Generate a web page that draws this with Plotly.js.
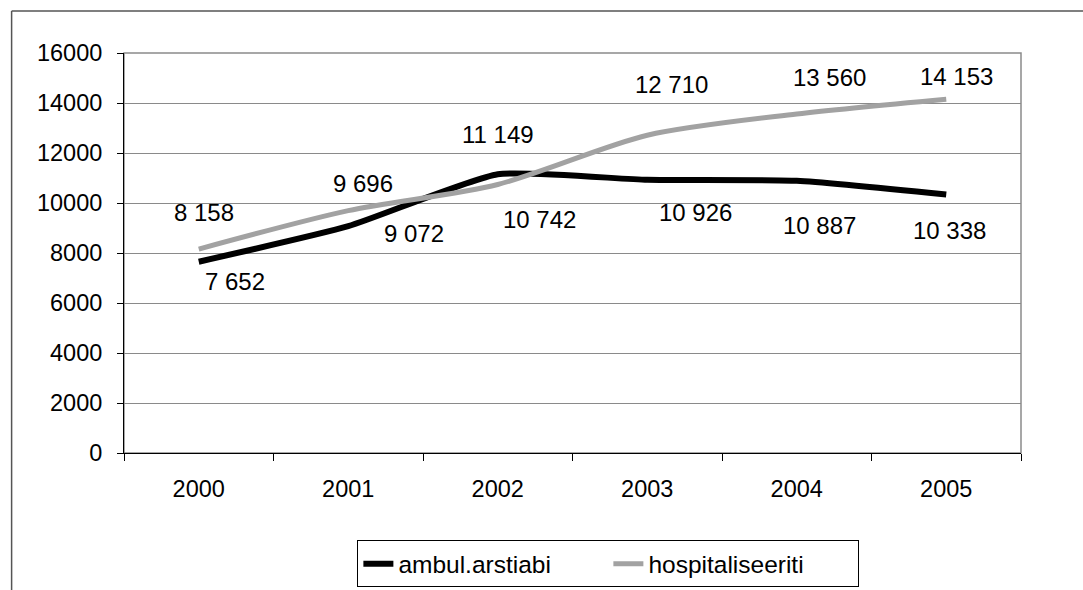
<!DOCTYPE html>
<html>
<head>
<meta charset="utf-8">
<script src="https://cdn.plot.ly/plotly-3.0.1.min.js"></script>
<style>
html,body{margin:0;padding:0;background:#fff;}
#chart{width:1083px;height:590px;}
</style>
</head>
<body>
<div id="chart"></div>
<script>
// ---- data ----
var years = ['2000', '2001', '2002', '2003', '2004', '2005'];
var ambul = [7652, 9072, 11149, 10926, 10887, 10338];
var hosp = [8158, 9696, 10742, 12710, 13560, 14153];
var seriesNames = ['ambul.arstiabi', 'hospitaliseeriti'];
var yTicks = [0, 2000, 4000, 6000, 8000, 10000, 12000, 14000, 16000];

// ---- label offsets (px), styling only ----
var ambulOff = [[36, -20], [66, -7], [0, 40], [48, -33], [23, -45], [3, -36]];
var hospOff = [[5, 37], [15, 27], [42, -35], [24, 51], [33, 37], [10, 23]];

function fmt(v) { return String(v).replace(/\B(?=(\d{3})+(?!\d))/g, '\u00a0'); }

var FONT = 'Liberation Sans, Arial, sans-serif';

var traces = [
  {
    x: years, y: ambul, name: seriesNames[0], type: 'scatter', mode: 'lines',
    line: {color: '#000000', width: 6, shape: 'spline', smoothing: 0.5},
    hoverinfo: 'skip'
  },
  {
    x: years, y: hosp, name: seriesNames[1], type: 'scatter', mode: 'lines',
    line: {color: '#a2a2a2', width: 5, shape: 'spline', smoothing: 0.8},
    hoverinfo: 'skip'
  }
];

var annotations = [];
function addLabels(vals, offs) {
  for (var i = 0; i < vals.length; i++) {
    annotations.push({
      x: i, y: vals[i], xref: 'x', yref: 'y',   // i = category index of years[i]
      text: fmt(vals[i]), showarrow: false,
      xshift: offs[i][0], yshift: offs[i][1],
      font: {family: FONT, size: 24, color: '#000'}
    });
  }
}
addLabels(ambul, ambulOff);
addLabels(hosp, hospOff);

var layout = {
  width: 1083, height: 590,
  margin: {l: 123.5, r: 61.5, t: 53, b: 137.3, pad: 0, autoexpand: false},
  paper_bgcolor: '#ffffff', plot_bgcolor: '#ffffff',
  font: {family: FONT, size: 23, color: '#000'},
  showlegend: true,
  legend: {
    orientation: 'h', x: 0.54, xanchor: 'center', y: -0.218, yanchor: 'top',
    bordercolor: '#000', borderwidth: 1, bgcolor: '#fff',
    font: {family: FONT, size: 24.5, color: '#000'},
    entrywidth: 205, entrywidthmode: 'pixels'
  },
  xaxis: {
    type: 'category', range: [-0.5, 5.5],
    tickson: 'boundaries', ticks: 'outside', ticklen: 7, tickcolor: '#000', tickwidth: 1,
    showline: true, linecolor: '#000', linewidth: 1,
    showgrid: false, zeroline: false,
    tickfont: {family: FONT, size: 23.5, color: '#000'},
    ticklabelstandoff: 15
  },
  yaxis: {
    range: [0, 16000], tickvals: yTicks, ticktext: yTicks.map(String),
    ticks: 'outside', ticklen: 6, tickcolor: '#000', tickwidth: 1,
    showline: true, linecolor: '#000', linewidth: 1,
    showgrid: true, gridcolor: '#8a8a8a', gridwidth: 1,
    zeroline: false,
    tickfont: {family: FONT, size: 23.5, color: '#000'},
    ticklabelstandoff: 10
  },
  shapes: [
    {type: 'rect', xref: 'paper', yref: 'paper', x0: 0, x1: 1, y0: 0, y1: 1,
     line: {color: '#8a8a8a', width: 1.5}, layer: 'below'},
    {type: 'line', xref: 'paper', yref: 'paper', x0: -0.1253, x1: 1.07, y0: 1.105, y1: 1.105,
     line: {color: '#555', width: 1.5}},
    {type: 'line', xref: 'paper', yref: 'paper', x0: -0.1253, x1: -0.1253, y0: 1.105, y1: -0.35,
     line: {color: '#555', width: 1.5}}
  ],
  annotations: annotations
};

Plotly.newPlot('chart', traces, layout, {displayModeBar: false, staticPlot: true});
</script>
</body>
</html>
